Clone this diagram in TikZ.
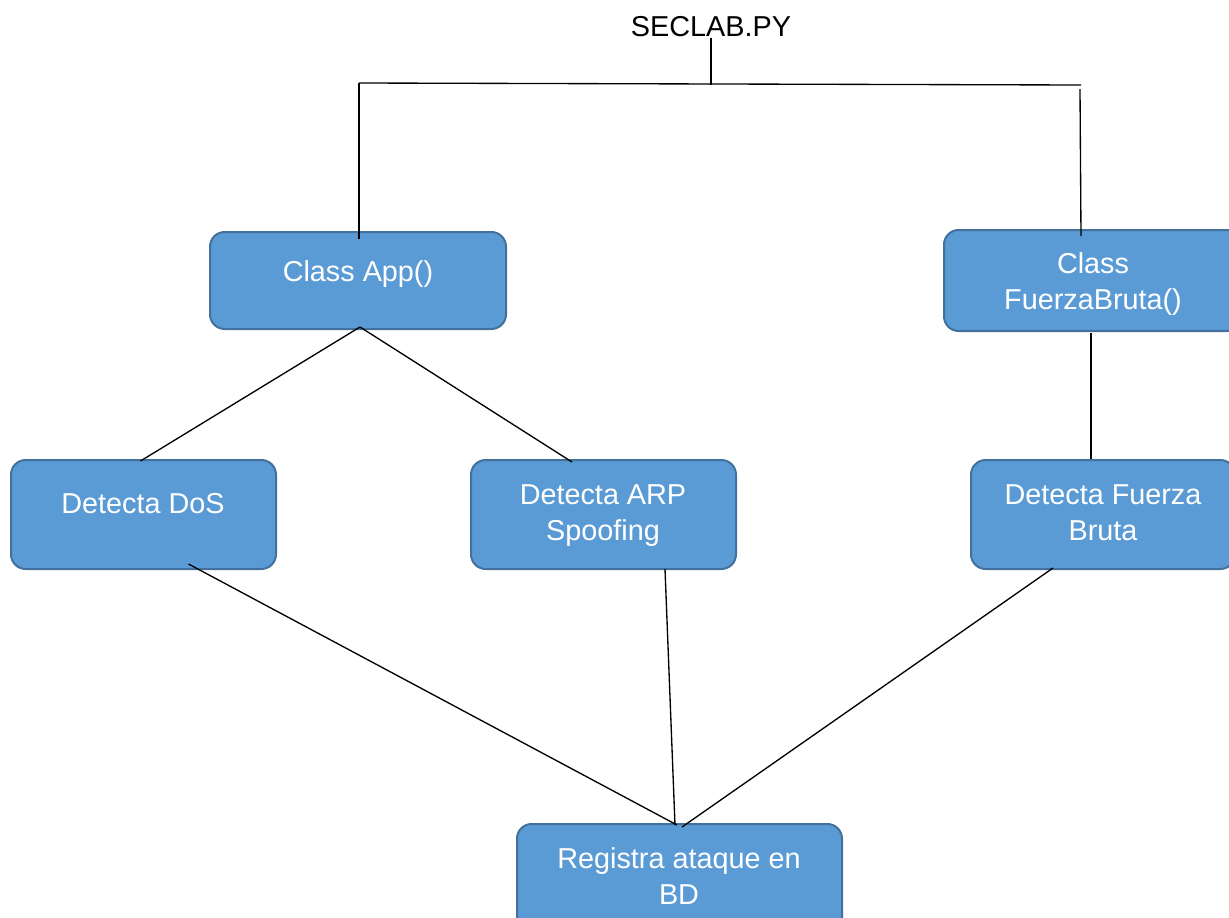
\documentclass[tikz,border=0pt]{standalone}
\usepackage{fontspec}
\setmainfont{Liberation Sans}
\usetikzlibrary{calc,fit}
\definecolor{boxfill}{HTML}{5B9BD5}
\definecolor{boxline}{HTML}{41719C}
\newcommand\lblfont{\fontsize{21.6}{27.4}\selectfont}
\newcommand\lnup{\rule{0pt}{17pt}}
\tikzset{
  box/.style={draw=boxline, fill=boxfill, line width=1.5pt, rounded corners=11pt, inner sep=0pt},
  lbl/.style={text=white, font=\lblfont, align=center, anchor=north, inner sep=0pt, yshift=17pt},
  ttl/.style={text=black, font=\lblfont, anchor=base, inner sep=0pt},
  conn/.style={draw=black, line width=1pt}
}
\begin{document}
\begin{tikzpicture}[x=0.75pt, y=-0.75pt]
\useasboundingbox (0,0) rectangle (1229,918);
% title
\node[ttl] (title) at (711,36) {SECLAB.PY};
% boxes
\node[box, fit={(210,232) (506,329)}] (app) {};
\node[box, fit={(944,230) (1242,331)}] (fb) {};
\node[box, fit={(11,460) (276,569)}] (dos) {};
\node[box, fit={(471,460) (736,569)}] (arp) {};
\node[box, fit={(971,460) (1235,569)}] (fbd) {};
\node[box, fit={(517,824) (842,935)}] (reg) {};
% labels
\node[lbl] (tapp) at (358,281) {\lnup Class App()};
\node[lbl] (tfb) at (1093,273) {\lnup Class\\FuerzaBruta()};
\node[lbl] (tdos) at (143,513) {\lnup Detecta DoS};
\node[lbl] (tarp) at (603,504) {\lnup Detecta ARP\\Spoofing};
\node[lbl] (tfbd) at (1103,504) {\lnup Detecta Fuerza\\Bruta};
\node[lbl] (treg) at (679,868) {\lnup Registra ataque en\\BD};
% tree lines
\coordinate (hub) at (711,85);
\coordinate (L) at (359,83);
\coordinate (R) at (1081,85);
\draw[conn] ($(title.south)+(0,1)$) -- (hub);
\draw[conn] (L) -- (R);
\draw[conn] (L) -- ($(app.north)+(1,8)$);
\draw[conn] ($(R)+(-1,4)$) -- ($(R |- fb.north)+(0,7)$);
\draw[conn] ($(app.south)+(2,-3)$) -- ($(dos.north)+(-3,2)$);
\draw[conn] ($(app.south)+(2,-3)$) -- ($(arp.north)+(-31.5,3)$);
\draw[conn] ($(fb.south)+(-2,1)$) -- ($(fbd.north)+(-12,0)$);
\draw[conn] ($(dos.south)+(45,-6)$) -- ($(reg.north)+(-2.5,2)$);
\draw[conn] ($(arp.south)+(61.5,-1)$) -- ($(reg.north)+(-4.5,2)$);
\draw[conn] ($(fbd.south)+(-50,-2)$) -- ($(reg.north)+(2.5,4)$);
\end{tikzpicture}
\end{document}
